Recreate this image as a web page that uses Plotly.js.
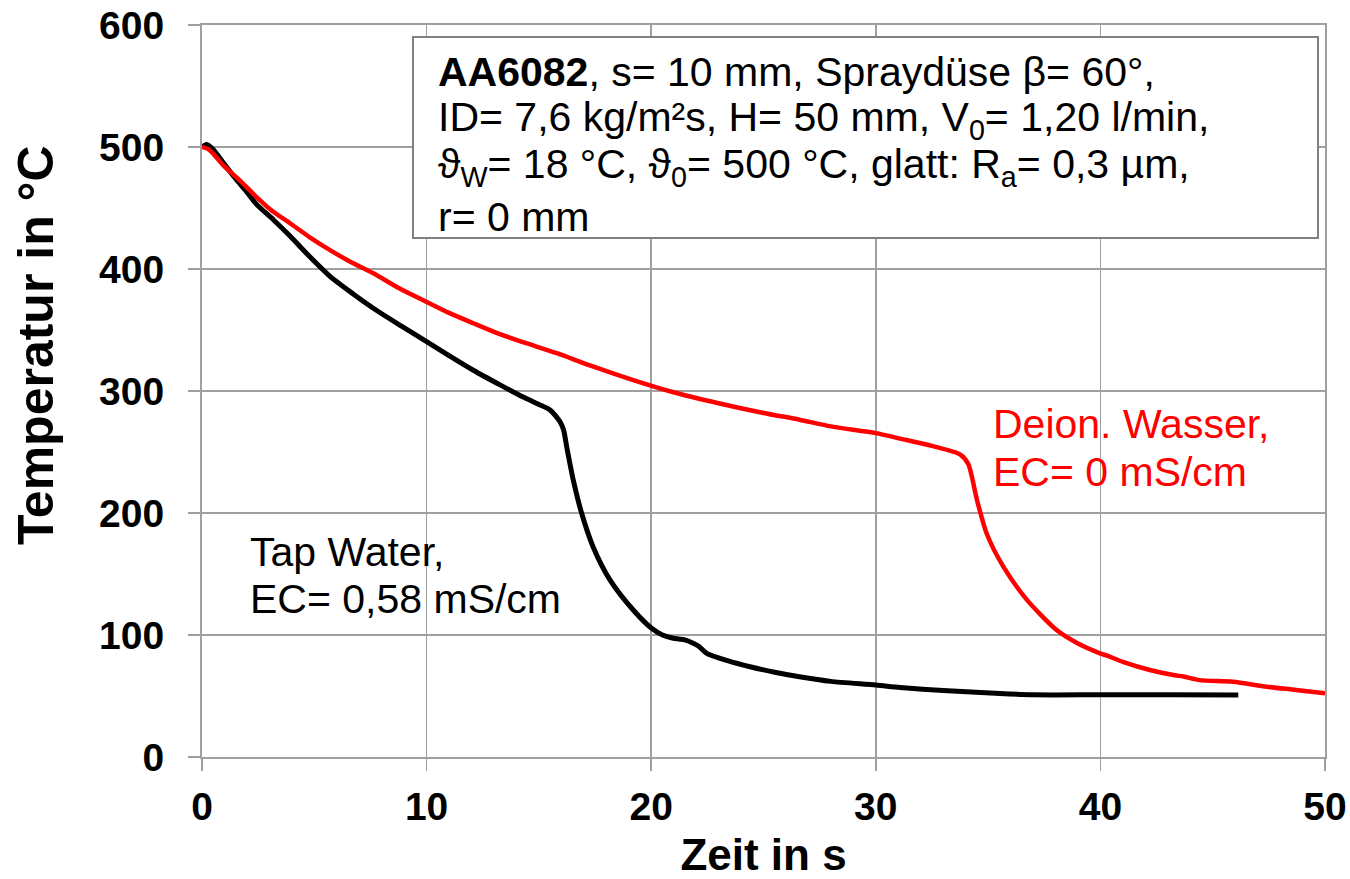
<!DOCTYPE html>
<html>
<head>
<meta charset="utf-8">
<script src="https://cdn.plot.ly/plotly-3.0.1.min.js"></script>
<style>html,body{margin:0;padding:0;background:#fff;}#chart{width:1350px;height:879px;}</style>
</head>
<body>
<div id="chart"></div>
<script>
// Tap water, EC = 0,58 mS/cm (black)
const tapTime = [0, 0.2, 0.5, 0.95, 1.5, 2.0, 2.43, 3.2, 3.92, 4.8, 5.7, 6.7, 7.78, 8.9, 10.0, 11.0, 12.08, 13.27, 14.3, 15.0, 15.5, 15.94, 16.1, 16.24, 16.53, 16.9, 17.42, 18.17, 19.2, 20.02, 20.5, 20.98, 21.5, 21.87, 22.1, 22.47, 23.4, 24.4, 25.5, 26.6, 28, 30, 31.08, 33, 35.53, 37, 40, 43, 46.14];
const tapTemp = [500, 502, 498, 487, 474, 463, 453, 440, 427, 410, 394, 380, 366, 353, 340.5, 329, 317, 305, 295, 289, 284.5, 274.8, 268, 254, 227, 200, 172, 145, 120.5, 105.5, 100, 97.3, 96, 93.2, 91, 85, 79, 74, 69.5, 65.8, 62, 59, 57, 54.5, 52, 51, 51, 51, 50.8];

// Deionized water, EC = 0 mS/cm (red)
const deiTime = [0, 0.3, 0.95, 1.6, 2.43, 3.1, 3.92, 4.8, 5.7, 6.6, 7.63, 8.8, 10.0, 11.0, 12.08, 13.2, 14.3, 15.8, 17.27, 19.2, 21, 23, 25, 26.6, 28, 30, 31.08, 32.5, 33.75, 34.12, 34.5, 34.94, 35.68, 36.72, 38.05, 39.0, 39.98, 40.3, 41, 42.2, 43.3, 43.7, 44.43, 45.9, 47.4, 48.7, 50];
const deiTemp = [500, 498, 485, 474, 459, 448, 437.5, 426, 415.5, 406, 396.5, 384, 373, 364, 355.5, 347, 340, 331, 321, 309, 299, 290, 282, 276.5, 271, 265.5, 261, 255, 248, 240, 211, 183, 156, 129, 104, 93, 85, 83, 78, 71.3, 67, 66, 63, 61.7, 57.6, 55, 52.2];

const xTicks = [0, 10, 20, 30, 40, 50];
const yTicks = [0, 100, 200, 300, 400, 500, 600];

const FONT = 'Liberation Sans, Arial, sans-serif';
const GRID = '#a0a0a0';

// px -> data helpers for annotation placement only
const px2x = p => (p - 202) / 22.46;
const px2y = p => (757 - p) / 1.22;

const traces = [
  {x: tapTime, y: tapTemp, type: 'scatter', mode: 'lines', name: 'Tap Water',
   line: {color: '#000000', width: 5, shape: 'spline', smoothing: 0.7}},
  {x: deiTime, y: deiTemp, type: 'scatter', mode: 'lines', name: 'Deion. Wasser',
   line: {color: '#ff0000', width: 4.5, shape: 'spline', smoothing: 0.7}}
];

const boxLines = [
  '<b>AA6082</b>, s= 10 mm, Spraydüse β= 60°,',
  'ID= 7,6 kg/m²s, H= 50 mm, V<sub>0</sub>= 1,20 l/min,',
  'ϑ<sub>W</sub>= 18 °C, ϑ<sub>0</sub>= 500 °C, glatt: R<sub>a</sub>= 0,3 µm,',
  'r= 0 mm'
];
const boxBase = [86, 134, 181, 231];
const FS = 41;

const annotations = boxLines.map((t, i) => ({
  text: t, x: px2x(436), y: px2y(boxBase[i] - 0.35 * FS), xref: 'x', yref: 'y',
  xanchor: 'left', yanchor: 'middle', showarrow: false,
  font: {family: FONT, size: FS, color: '#000'}
}));

const labels = [
  {t: 'Tap Water,', x: 248, b: 566, c: '#000'},
  {t: 'EC= 0,58 mS/cm', x: 248, b: 613, c: '#000'},
  {t: 'Deion. Wasser,', x: 991, b: 438, c: '#ff0000'},
  {t: 'EC= 0 mS/cm', x: 991, b: 486, c: '#ff0000'}
];
labels.forEach(l => annotations.push({
  text: l.t, x: px2x(l.x), y: px2y(l.b - 0.35 * FS), xref: 'x', yref: 'y',
  xanchor: 'left', yanchor: 'middle', showarrow: false,
  font: {family: FONT, size: FS, color: l.c}
}));

// y-axis title placed as rotated annotation (reference centers it above plot middle)
annotations.push({
  text: '<b>Temperatur in °C</b>', textangle: -90,
  x: (36 - 202) / 1123, y: (757 - 345) / 732, xref: 'paper', yref: 'paper', showarrow: false,
  xanchor: 'center', yanchor: 'middle',
  font: {family: FONT, size: 50, color: '#000'}
});

const layout = {
  width: 1350, height: 879,
  margin: {l: 202, r: 25, t: 25, b: 122},
  paper_bgcolor: '#fff', plot_bgcolor: '#fff',
  showlegend: false,
  font: {family: FONT, color: '#000'},
  xaxis: {
    range: [0, 50], tickvals: xTicks, ticktext: xTicks.map(String),
    showgrid: true, gridcolor: GRID, gridwidth: 1.5,
    showline: true, linecolor: GRID, linewidth: 2, mirror: true,
    ticks: 'outside', ticklen: 12, tickcolor: GRID, tickwidth: 1.5,
    ticklabelstandoff: 2,
    tickfont: {family: FONT, size: 39, color: '#000', weight: 'bold'},
    zeroline: false,
    title: {text: '<b>Zeit in s</b>', font: {family: FONT, size: 44, color: '#000'}, standoff: 14}
  },
  yaxis: {
    range: [0, 600], tickvals: yTicks, ticktext: yTicks.map(String),
    showgrid: true, gridcolor: GRID, gridwidth: 1.5,
    showline: true, linecolor: GRID, linewidth: 2, mirror: true,
    ticks: 'outside', ticklen: 12, tickcolor: GRID, tickwidth: 1.5,
    ticklabelstandoff: 16,
    tickfont: {family: FONT, size: 39, color: '#000', weight: 'bold'},
    zeroline: false,
    title: {text: ''}
  },
  shapes: [{
    type: 'rect', xref: 'x', yref: 'y',
    x0: px2x(413), x1: px2x(1318), y0: px2y(238), y1: px2y(37),
    line: {color: '#808080', width: 2}, fillcolor: '#ffffff', layer: 'above'
  }],
  annotations: annotations
};

Plotly.newPlot('chart', traces, layout, {displayModeBar: false, staticPlot: true});
</script>
</body>
</html>
